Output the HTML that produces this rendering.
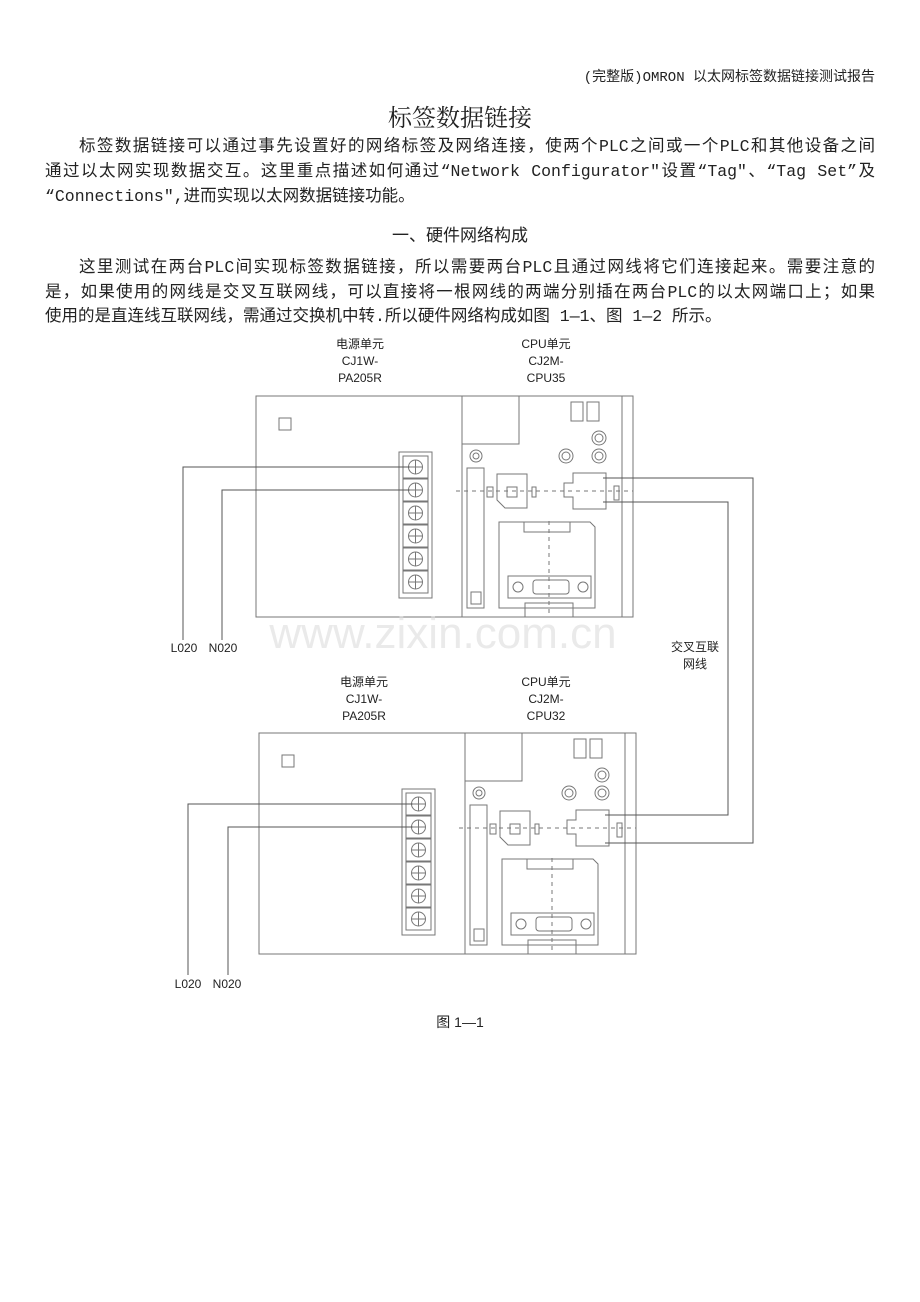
<!DOCTYPE html>
<html><head><meta charset="utf-8"><style>
body{margin:0;background:#fff;width:920px;height:1302px;position:relative;overflow:hidden;font-family:"Liberation Mono","Noto Sans CJK SC",monospace;color:#222}
.t{position:absolute;white-space:nowrap}
.ln{position:absolute;left:45px;width:830px;font-size:16.5px;text-align:justify;text-align-last:justify;white-space:nowrap;height:22px;line-height:22px}
svg{position:absolute;left:0;top:0}
</style></head><body>
<div class="t" style="right:45px;top:66px;font-size:14px">(完整版)OMRON 以太网标签数据链接测试报告</div>
<div class="t" style="left:0;width:920px;text-align:center;top:98px;font-size:24px;font-family:'Noto Serif CJK SC',serif">标签数据链接</div>
<div class="ln" style="top:136px;padding-left:34px;width:796px">标签数据链接可以通过事先设置好的网络标签及网络连接，使两个PLC之间或一个PLC和其他设备之间</div>
<div class="ln" style="top:161px">通过以太网实现数据交互。这里重点描述如何通过“Network Configurator"设置“Tag"、“Tag Set”及</div>
<div class="ln" style="top:186px;text-align-last:left">“Connections",进而实现以太网数据链接功能。</div>
<div class="t" style="left:0;width:920px;text-align:center;top:221px;font-size:17px">一、硬件网络构成</div>
<div class="ln" style="top:257px;padding-left:34px;width:796px">这里测试在两台PLC间实现标签数据链接，所以需要两台PLC且通过网线将它们连接起来。需要注意的</div>
<div class="ln" style="top:282px">是，如果使用的网线是交叉互联网线，可以直接将一根网线的两端分别插在两台PLC的以太网端口上；如果</div>
<div class="ln" style="top:306px;text-align-last:left">使用的是直连线互联网线，需通过交换机中转.所以硬件网络构成如图 1—1、图 1—2 所示。</div>
<svg width="920" height="1302" viewBox="0 0 920 1302" font-family="Liberation Sans,Noto Sans CJK SC,sans-serif" font-size="12" fill="#222">
<defs>
<g id="m" fill="none" stroke="#777" stroke-width="1">
<rect x="0" y="0" width="377" height="221"/>
<line x1="206" y1="0" x2="206" y2="221"/>
<line x1="366" y1="0" x2="366" y2="221"/>
<rect x="206" y="0" width="57" height="48"/>
<rect x="23" y="22" width="12" height="12"/>
<rect x="143" y="56" width="33" height="146"/>
<g id="sc"><rect x="147" y="60" width="25" height="22"/><circle cx="159.5" cy="71" r="7"/><line x1="152.5" y1="71" x2="166.5" y2="71"/><line x1="159.5" y1="64" x2="159.5" y2="78"/></g>
<use href="#sc" y="23"/><use href="#sc" y="46"/><use href="#sc" y="69"/><use href="#sc" y="92"/><use href="#sc" y="115"/>
<rect x="211" y="72" width="17" height="140"/><rect x="215" y="196" width="10" height="12"/>
<circle cx="220" cy="60" r="6"/><circle cx="220" cy="60" r="3"/>
<circle cx="310" cy="60" r="7"/><circle cx="310" cy="60" r="4"/>
<circle cx="343" cy="60" r="7"/><circle cx="343" cy="60" r="4"/>
<circle cx="343" cy="42" r="7"/><circle cx="343" cy="42" r="4"/>
<rect x="315" y="6" width="12" height="19"/><rect x="331" y="6" width="12" height="19"/>
<path d="M241 78h30v34h-22l-8-8z"/><rect x="251" y="91" width="10" height="10"/>
<rect x="231" y="91" width="6" height="10"/><rect x="276" y="91" width="4" height="10"/>
<path d="M317 77h33v36h-33v-12h-9v-14h9z"/><rect x="358" y="90" width="5" height="14"/>
<path d="M243 126h91l5 5v81h-96z"/><rect x="268" y="126" width="46" height="10"/>
<rect x="252" y="180" width="83" height="22"/><circle cx="262" cy="191" r="5"/><circle cx="327" cy="191" r="5"/><rect x="277" y="184" width="36" height="14" rx="3"/>
<rect x="269" y="207" width="48" height="14"/>
<line x1="200" y1="95" x2="377" y2="95" stroke-dasharray="4 4"/>
<line x1="293" y1="125" x2="293" y2="221" stroke-dasharray="4 4"/>
</g>
</defs>
<use href="#m" x="256" y="396"/>
<use href="#m" x="259" y="733"/>
<g fill="none" stroke="#555" stroke-width="1">
<polyline points="410,467 183,467 183,640"/>
<polyline points="410,490 222,490 222,640"/>
<polyline points="413,804 188,804 188,975"/>
<polyline points="413,827 228,827 228,975"/>
<polyline points="603,478 753,478 753,843 605,843"/>
<polyline points="603,502 728,502 728,815 605,815"/>
</g>
<g text-anchor="middle">
<text x="360" y="348">电源单元</text><text x="360" y="365">CJ1W-</text><text x="360" y="382">PA205R</text>
<text x="546" y="348">CPU单元</text><text x="546" y="365">CJ2M-</text><text x="546" y="382">CPU35</text>
<text x="364" y="686">电源单元</text><text x="364" y="703">CJ1W-</text><text x="364" y="720">PA205R</text>
<text x="546" y="686">CPU单元</text><text x="546" y="703">CJ2M-</text><text x="546" y="720">CPU32</text>
<text x="695" y="651">交叉互联</text><text x="695" y="668">网线</text>
<text x="184" y="652">L020</text><text x="223" y="652">N020</text>
<text x="188" y="988">L020</text><text x="227" y="988">N020</text>
<text x="460" y="1027" font-size="14">图 1—1</text>
<text x="443" y="648" font-size="44" fill="#ddd" opacity="0.6">www.zixin.com.cn</text>
</g>
</svg>
</body></html>
